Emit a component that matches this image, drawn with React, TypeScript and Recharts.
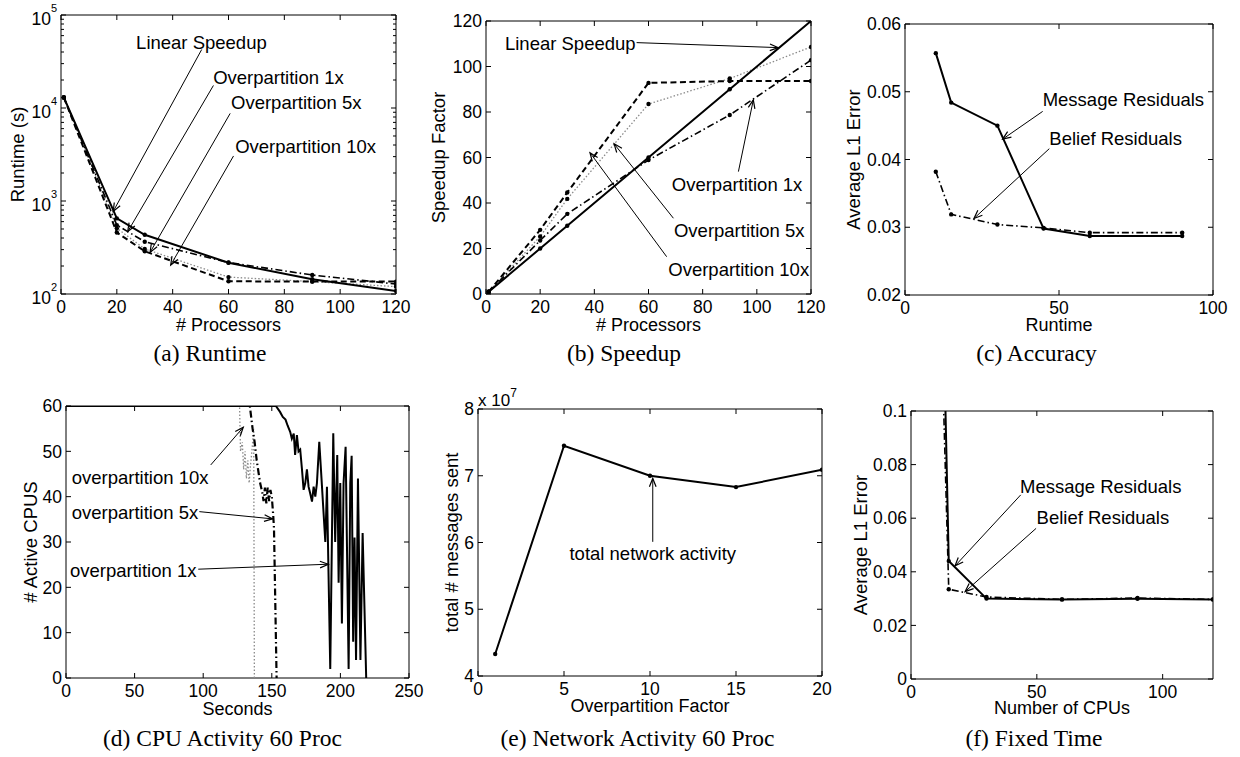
import React from 'react';
import { LineChart, Line, XAxis, YAxis, ReferenceLine, ReferenceDot, ReferenceArea } from 'recharts';

const SANS = '"Liberation Sans", Arial, Helvetica, sans-serif';
const SERIF = '"Liberation Serif", "Times New Roman", Times, serif';

// (a) runtime + (b) speedup, measured at the same processor counts
const procs = [1, 20, 30, 60, 90, 120];
const runtimeLinear = [13000, 650, 433, 217, 144, 108];
const runtimeOver1 = [13000, 550, 365, 218, 160, 128];
const runtimeOver5 = [13000, 510, 305, 152, 136, 120];
const runtimeOver10 = [13000, 458, 288, 137, 136, 136];

const speedupLinear = [1, 20, 30, 60, 90, 120];
const speedupOver1 = [1, 23.5, 35.2, 58.9, 78.7, 102.8];
const speedupOver5 = [1, 25.3, 41.8, 83.5, 94.7, 108.6];
const speedupOver10 = [1, 28.2, 44.6, 92.8, 93.6, 93.6];

// (c) accuracy vs runtime
const accRuntime = [10, 15, 30, 45, 60, 90];
const accMessage = [0.0557, 0.0484, 0.045, 0.0298, 0.0287, 0.0287];
const accBelief = [0.0382, 0.0319, 0.0304, 0.0299, 0.0292, 0.0292];

// (d) active cpus over time
const cpu1xSec = [0, 153, 156, 158, 160, 161.5, 163.4, 164.6, 166, 167, 168.3, 169.5, 170.7, 172, 173.2, 174.4, 175.6, 176.8, 178, 179.3, 180.5, 181.7, 182.9, 184.6, 186.5, 189, 190.2, 192.6, 194.8, 196.2, 197.7, 198.7, 199.9, 201.1, 202.3, 203.8, 206, 207.2, 208.2, 209.3, 210.3, 211.4, 212.8, 214.6, 216.2, 218.8];
const cpu1xActive = [60, 60, 58.7, 57.6, 57, 55.7, 54.3, 52.8, 53.9, 49.2, 53.6, 50, 50.4, 46, 41.5, 43, 46, 42.2, 40.7, 38.9, 42.2, 40, 43, 52.1, 42.6, 30, 42.2, 2, 54, 30, 49.2, 21, 43, 12, 43, 51, 2, 43, 49, 8, 31, 4, 44, 4, 32, 0];
const cpu5xSec = [0, 134, 136, 137.5, 139, 140, 141.5, 143, 144, 145, 146, 147, 148, 149, 150, 151, 151.6, 153.5];
const cpu5xActive = [60, 60, 55, 52, 48, 46, 43, 41, 39, 42, 38.5, 42, 39, 41.5, 40, 36, 33, 0];
const cpu10xSec = [0, 126.5, 127.2, 128.5, 129.5, 130.5, 131.5, 132.5, 133.5, 134.5, 135.5, 136.8, 137.3];
const cpu10xActive = [60, 60, 50, 52, 46, 50, 44, 48, 43, 47, 50, 55, 0];

// (e) network activity
const overFactor = [1, 5, 10, 15, 20];
const messagesSent = [4.33e7, 7.45e7, 7.0e7, 6.83e7, 7.09e7];

// (f) fixed time
const fixedCpus = [10, 15, 30, 60, 90, 120];
const fixedMessage = [0.26, 0.044, 0.03, 0.0297, 0.0299, 0.0297];
const fixedBelief = [0.2, 0.0335, 0.0306, 0.0297, 0.0302, 0.0297];

// ticks
const ticksProc = [0, 20, 40, 60, 80, 100, 120];
const ticksRuntimeLog = [100, 1000, 10000, 100000];
const ticksRuntimeMinor = [200, 300, 400, 500, 600, 700, 800, 900, 2000, 3000, 4000, 5000, 6000, 7000, 8000, 9000, 20000, 30000, 40000, 50000, 60000, 70000, 80000, 90000];
const ticksAccX = [0, 50, 100];
const ticksAccY = [0.02, 0.03, 0.04, 0.05, 0.06];
const ticksSec = [0, 50, 100, 150, 200, 250];
const ticksCpu = [0, 10, 20, 30, 40, 50, 60];
const ticksFactor = [0, 5, 10, 15, 20];
const ticksMsgs = [4e7, 5e7, 6e7, 7e7, 8e7];
const ticksFixedX = [0, 50, 100];
const ticksFixedY = [0, 0.02, 0.04, 0.06, 0.08, 0.1];

const captions = ['(a) Runtime', '(b) Speedup', '(c) Accuracy', '(d) CPU Activity 60 Proc', '(e) Network Activity 60 Proc', '(f) Fixed Time'];

// plot boxes (inner axes rectangle) in page pixels
const boxA = { x: 61, y: 15, w: 335, h: 279 };
const boxB = { x: 486, y: 21, w: 325, h: 273 };
const boxC = { x: 905, y: 24, w: 308, h: 271 };
const boxD = { x: 66, y: 406, w: 343, h: 272 };
const boxE = { x: 478, y: 409, w: 344, h: 267 };
const boxF = { x: 911, y: 411, w: 302, h: 268 };

const SOLID = { stroke: '#000', strokeWidth: 2 };
const DASHED = { stroke: '#000', strokeWidth: 2, strokeDasharray: '6 3.5' };
const DASHDOT = { stroke: '#000', strokeWidth: 1.6, strokeDasharray: '7 3 1.5 3' };
const DASHDOT_BOLD = { stroke: '#000', strokeWidth: 2.2, strokeDasharray: '7 3 1.5 3' };
const DOTTED = { stroke: '#8a8a8a', strokeWidth: 1.3, strokeDasharray: '1.5 2' };

const pts = (xs: number[], ys: number[]) => xs.map((x, i) => ({ x, y: ys[i] }));

const fmtInt = (v: number) => String(v);
const fmtDec = (v: number) => String(Number(v.toFixed(2)));
const fmtE7 = (v: number) => String(Math.round(v / 1e7));

type Note = { text: string; at: [number, number]; from: [number, number]; to: [number, number]; anchor?: string };

const notesA: Note[] = [
  { text: 'Linear Speedup', at: [26.9, 51000], from: [50.4, 42560], to: [18.7, 773] },
  { text: 'Overpartition 1x', at: [54.5, 21100], from: [54.6, 17470], to: [23.9, 469] },
  { text: 'Overpartition 5x', at: [60.9, 11500], from: [60.6, 8750], to: [31.9, 280] },
  { text: 'Overpartition 10x', at: [62.4, 3840], from: [61.8, 3050], to: [39.3, 205] },
];
const notesB: Note[] = [
  { text: 'Linear Speedup', at: [7, 110.2], from: [55.6, 110.5], to: [107.9, 108.3] },
  { text: 'Overpartition 1x', at: [68.6, 48.2], from: [93.2, 53.8], to: [98.7, 85.3] },
  { text: 'Overpartition 5x', at: [69.4, 28.1], from: [69.2, 33.3], to: [47.3, 66] },
  { text: 'Overpartition 10x', at: [67.3, 10.9], from: [66.7, 16.4], to: [38.4, 62.1] },
];
const notesC: Note[] = [
  { text: 'Message Residuals', at: [44.7, 0.0488], from: [44.7, 0.0471], to: [31.7, 0.043] },
  { text: 'Belief Residuals', at: [46.85, 0.0431], from: [46.85, 0.0416], to: [22.4, 0.0313] },
];
const notesD: Note[] = [
  { text: 'overpartition 10x', at: [4.2, 44.3], from: [105.5, 47], to: [129.2, 55.3] },
  { text: 'overpartition 5x', at: [4.2, 36.5], from: [97.2, 36.7], to: [150.6, 35.1] },
  { text: 'overpartition 1x', at: [2.9, 23.8], from: [96.4, 24], to: [191.2, 25.1] },
];
const notesE: Note[] = [
  { text: 'total network activity', at: [10.16, 5.84e7], from: [10.16, 6.01e7], to: [10.16, 6.96e7], anchor: 'middle' },
];
const notesF: Note[] = [
  { text: 'Message Residuals', at: [43.3, 0.0718], from: [43.6, 0.0687], to: [17.5, 0.0422] },
  { text: 'Belief Residuals', at: [49.9, 0.0603], from: [49.7, 0.0562], to: [21.5, 0.0326] },
];

const xTick = (fmt: (v: number) => string) => (props: any) => (
  <text x={props.x} y={props.y} dy={11} textAnchor="middle" fontSize={17.5} fontFamily={SANS} fill="#000">
    {fmt(props.payload.value)}
  </text>
);

const yTick = (fmt: (v: number) => string) => (props: any) => (
  <text x={props.x} y={props.y} dy={6.2} textAnchor="end" fontSize={17.5} fontFamily={SANS} fill="#000">
    {fmt(props.payload.value)}
  </text>
);

const logTick = (props: any) => {
  const exp = Math.round(Math.log10(props.payload.value));
  return (
    <text x={props.x} y={props.y} textAnchor="end" fontSize={17.5} fontFamily={SANS} fill="#000">
      <tspan dy={9.5}>10</tspan>
      <tspan dy={-12.5} fontSize={11}>{exp}</tspan>
    </text>
  );
};

// inward tick marks at both ends of a reference line that spans the plot
const stubs = (len: number) => (props: any) => {
  const { x1, y1, x2, y2 } = props;
  const d = Math.hypot(x2 - x1, y2 - y1) || 1;
  const ux = (x2 - x1) / d;
  const uy = (y2 - y1) / d;
  return (
    <g>
      <line x1={x1} y1={y1} x2={x1 + ux * len} y2={y1 + uy * len} stroke="#000" strokeWidth={1} />
      <line x1={x2} y1={y2} x2={x2 - ux * len} y2={y2 - uy * len} stroke="#000" strokeWidth={1} />
    </g>
  );
};
const majorStub = stubs(5);
const minorStub = stubs(3);

const Arrow = (props: any) => {
  const { x1, y1, x2, y2 } = props;
  const a = Math.atan2(y2 - y1, x2 - x1);
  const L = 9;
  const s = 0.38;
  const ax = x2 - L * Math.cos(a - s);
  const ay = y2 - L * Math.sin(a - s);
  const bx = x2 - L * Math.cos(a + s);
  const by = y2 - L * Math.sin(a + s);
  return (
    <g>
      <line x1={x1} y1={y1} x2={x2} y2={y2} stroke="#000" strokeWidth={1} />
      <path d={`M${ax},${ay}L${x2},${y2}L${bx},${by}`} fill="none" stroke="#000" strokeWidth={1.2} />
    </g>
  );
};

const YW = 70;
const MT = 16;
const MR = 20;
const XH = 36;

function Panel(p: any) {
  const { box, xDomain, xTicks, yDomain, yTicks, yMinor, log, fmtX, fmtY, series, notes } = p;
  const width = box.w + YW + MR;
  const height = box.h + MT + XH;
  const scale = log ? 'log' : 'auto';

  return (
    <div style={{ position: 'absolute', left: box.x - YW, top: box.y - MT, width, height }}>
      <LineChart width={width} height={height} margin={{ top: MT, right: MR, bottom: 0, left: 0 }}>
        <XAxis type="number" dataKey="x" domain={xDomain} allowDataOverflow ticks={xTicks} interval={0}
          tickLine={false} axisLine={false} tickSize={0} tickMargin={8} height={XH} tick={xTick(fmtX)} />
        <YAxis type="number" scale={scale} domain={yDomain} allowDataOverflow ticks={yTicks} interval={0}
          tickLine={false} axisLine={false} tickSize={0} tickMargin={4} width={YW} tick={log ? logTick : yTick(fmtY)} />
        <ReferenceArea x1={xDomain[0]} x2={xDomain[1]} y1={yDomain[0]} y2={yDomain[1]} ifOverflow="visible"
          fill="none" fillOpacity={0} stroke="#000" strokeWidth={1} />
        {xTicks.map((v: number) => (
          <ReferenceLine key={`xt${v}`} x={v} ifOverflow="visible" shape={majorStub} />
        ))}
        {yTicks.map((v: number) => (
          <ReferenceLine key={`yt${v}`} y={v} ifOverflow="visible" shape={majorStub} />
        ))}
        {(yMinor || []).map((v: number) => (
          <ReferenceLine key={`ym${v}`} y={v} ifOverflow="visible" shape={minorStub} />
        ))}
        {series.map((s: any, i: number) => (
          <Line key={`s${i}`} data={s.data} dataKey="y" type="linear" isAnimationActive={false} activeDot={false}
            {...s.style}
            dot={s.dot ? { r: 2.2, fill: '#000', stroke: '#000', strokeWidth: 0, strokeDasharray: 'none' } : false} />
        ))}
        {notes.map((n: Note, i: number) => (
          <ReferenceLine key={`a${i}`} segment={[{ x: n.from[0], y: n.from[1] }, { x: n.to[0], y: n.to[1] }]}
            ifOverflow="visible" shape={Arrow} />
        ))}
        {notes.map((n: Note, i: number) => (
          <ReferenceDot key={`t${i}`} x={n.at[0]} y={n.at[1]} r={0} ifOverflow="visible"
            shape={(d: any) => (
              <text x={d.cx} y={d.cy} dy="0.35em" textAnchor={n.anchor ?? 'start'} fontSize={18.5} fontFamily={SANS} fill="#000">
                {n.text}
              </text>
            )} />
        ))}
      </LineChart>
    </div>
  );
}

export default function App() {
  const boxes = [boxA, boxB, boxC, boxD, boxE, boxF];
  const captionX = [210, 624, 1036.5, 222.5, 637.5, 1034];
  const captionY = [361, 361, 361, 746, 746, 746];
  const xTitles = ['# Processors', '# Processors', 'Runtime', 'Seconds', 'Overpartition Factor', 'Number of CPUs'];
  const xTitleY = [331, 331, 331, 715, 712, 714];
  const yTitles = ['Runtime (s)', 'Speedup Factor', 'Average L1 Error', '# Active CPUS', 'total # messages sent', 'Average L1 Error'];
  const yTitleX = [24, 445, 860, 36.5, 458, 866.5];

  return (
    <div style={{ position: 'absolute', left: 0, top: 0, width: 1240, height: 757, background: '#fff', overflow: 'hidden' }}>
      <Panel box={boxA} xDomain={[0, 120]} xTicks={ticksProc} yDomain={[100, 100000]} yTicks={ticksRuntimeLog}
        yMinor={ticksRuntimeMinor} log fmtX={fmtInt} fmtY={fmtInt} notes={notesA}
        series={[
          { data: pts(procs, runtimeOver5), style: DOTTED, dot: true },
          { data: pts(procs, runtimeOver10), style: DASHED, dot: true },
          { data: pts(procs, runtimeOver1), style: DASHDOT, dot: true },
          { data: pts(procs, runtimeLinear), style: SOLID, dot: true },
        ]} />
      <Panel box={boxB} xDomain={[0, 120]} xTicks={ticksProc} yDomain={[0, 120]} yTicks={ticksProc}
        fmtX={fmtInt} fmtY={fmtInt} notes={notesB}
        series={[
          { data: pts(procs, speedupOver5), style: DOTTED, dot: true },
          { data: pts(procs, speedupOver10), style: DASHED, dot: true },
          { data: pts(procs, speedupOver1), style: DASHDOT, dot: true },
          { data: pts(procs, speedupLinear), style: SOLID, dot: true },
        ]} />
      <Panel box={boxC} xDomain={[0, 100]} xTicks={ticksAccX} yDomain={[0.02, 0.06]} yTicks={ticksAccY}
        fmtX={fmtInt} fmtY={fmtDec} notes={notesC}
        series={[
          { data: pts(accRuntime, accBelief), style: DASHDOT, dot: true },
          { data: pts(accRuntime, accMessage), style: SOLID, dot: true },
        ]} />
      <Panel box={boxD} xDomain={[0, 250]} xTicks={ticksSec} yDomain={[0, 60]} yTicks={ticksCpu}
        fmtX={fmtInt} fmtY={fmtInt} notes={notesD}
        series={[
          { data: pts(cpu10xSec, cpu10xActive), style: DOTTED },
          { data: pts(cpu5xSec, cpu5xActive), style: DASHDOT_BOLD },
          { data: pts(cpu1xSec, cpu1xActive), style: SOLID },
        ]} />
      <Panel box={boxE} xDomain={[0, 20]} xTicks={ticksFactor} yDomain={[4e7, 8e7]} yTicks={ticksMsgs}
        fmtX={fmtInt} fmtY={fmtE7} notes={notesE}
        series={[{ data: pts(overFactor, messagesSent), style: SOLID, dot: true }]} />
      <Panel box={boxF} xDomain={[0, 120]} xTicks={ticksFixedX} yDomain={[0, 0.1]} yTicks={ticksFixedY}
        fmtX={fmtInt} fmtY={fmtDec} notes={notesF}
        series={[
          { data: pts(fixedCpus, fixedBelief), style: DASHDOT, dot: true },
          { data: pts(fixedCpus, fixedMessage), style: SOLID, dot: true },
        ]} />

      <svg width={1240} height={757} style={{ position: 'absolute', left: 0, top: 0, pointerEvents: 'none' }}>
        {captions.map((c, i) => (
          <text key={`c${i}`} x={captionX[i]} y={captionY[i]} textAnchor="middle" fontSize={23.5} fontFamily={SERIF} fill="#000">{c}</text>
        ))}
        {xTitles.map((t, i) => (
          <text key={`x${i}`} x={boxes[i].x + boxes[i].w / 2} y={xTitleY[i]} textAnchor="middle" fontSize={18} fontFamily={SANS} fill="#000">{t}</text>
        ))}
        {yTitles.map((t, i) => {
          const cy = boxes[i].y + boxes[i].h / 2;
          return (
            <text key={`y${i}`} x={yTitleX[i]} y={cy} transform={`rotate(-90 ${yTitleX[i]} ${cy})`} textAnchor="middle"
              fontSize={18.5} fontFamily={SANS} fill="#000">{t}</text>
          );
        })}
        <text x={boxE.x} y={boxE.y - 3} fontSize={17} fontFamily={SANS} fill="#000">
          x 10<tspan dy={-9} fontSize={12}>7</tspan>
        </text>
      </svg>
    </div>
  );
}
